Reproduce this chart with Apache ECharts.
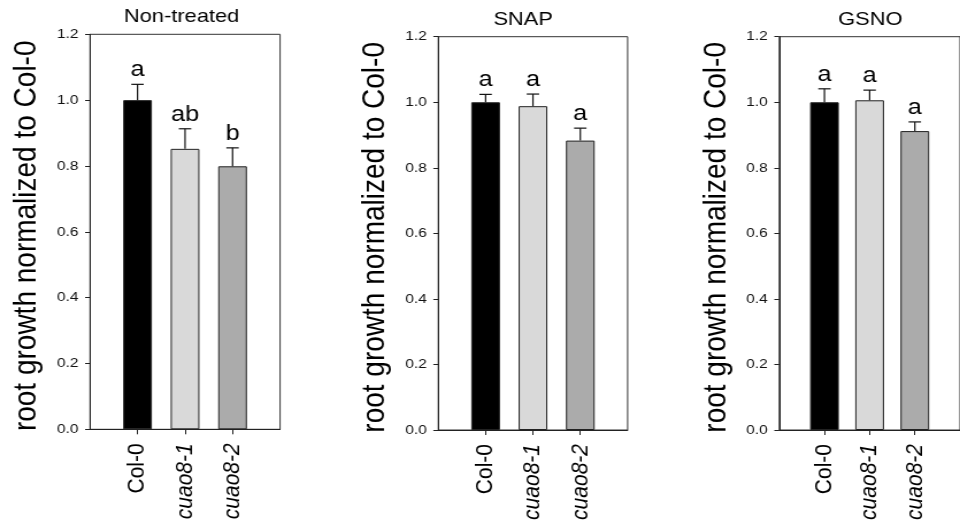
<!DOCTYPE html>
<html>
<head>
<meta charset="utf-8">
<script src="https://cdn.jsdelivr.net/npm/echarts@6/dist/echarts.min.js"></script>
<style>
  html, body { margin: 0; padding: 0; background: #fff; overflow: hidden; }
  /* the source figure is stretched sideways a little, so draw narrower and stretch */
  #chart { width: 835px; height: 528px; transform: scaleX(1.1497); transform-origin: 0 0; }
</style>
</head>
<body>
<div id="chart"></div>
<script>
const genotypes = ['Col-0', 'cuao8-1', 'cuao8-2'];
const panelTitles = ['Non-treated', 'SNAP', 'GSNO'];

const nonTreatedMean = [1.0, 0.852, 0.799];
const nonTreatedErr = [0.048, 0.061, 0.056];
const nonTreatedLetters = ['a', 'ab', 'b'];

const snapMean = [1.0, 0.988, 0.883];
const snapErr = [0.024, 0.037, 0.038];
const snapLetters = ['a', 'a', 'a'];

const gsnoMean = [1.0, 1.006, 0.912];
const gsnoErr = [0.041, 0.031, 0.028];
const gsnoLetters = ['a', 'a', 'a'];

const yMin = 0, yMax = 1.2, yStep = 0.2;
const yName = 'root growth normalized to Col-0';

const barColors = ['#000000', '#d9d9d9', '#ababab'];
const FONT = "'Liberation Sans', Arial, sans-serif";

const panels = [
  { mean: nonTreatedMean, err: nonTreatedErr, letters: nonTreatedLetters,
    grid: { left: 78.3, top: 34.3, width: 165.3, height: 395 }, titleX: 158, titleY: 7 },
  { mean: snapMean, err: snapErr, letters: snapLetters,
    grid: { left: 381.2, top: 36.7, width: 164.7, height: 393.3 }, titleX: 455, titleY: 10 },
  { mean: gsnoMean, err: gsnoErr, letters: gsnoLetters,
    grid: { left: 677.8, top: 36.7, width: 165.3, height: 393.3 }, titleX: 757, titleY: 10 }
];

// blank slot at each end so the three bars sit at 1/4, 2/4, 3/4 of the width
const xSlots = [''].concat(genotypes, ['']);

const chart = echarts.init(document.getElementById('chart'));

const option = {
  animation: false,
  title: [], grid: [], xAxis: [], yAxis: [], series: []
};

panels.forEach((p, i) => {
  option.title.push({
    text: panelTitles[i],
    left: p.titleX,
    top: p.titleY,
    textAlign: 'center',
    padding: 0,
    textStyle: { fontFamily: FONT, fontSize: 19, fontWeight: 'normal', color: '#000' }
  });

  option.grid.push(Object.assign({
    show: true, borderColor: '#333', borderWidth: 1, backgroundColor: 'transparent'
  }, p.grid));

  option.xAxis.push({
    type: 'category',
    gridIndex: i,
    data: xSlots,
    boundaryGap: false,
    axisLine: { lineStyle: { color: '#222', width: 1 } },
    axisTick: { length: 5, interval: idx => idx >= 1 && idx <= 3, lineStyle: { color: '#222' } },
    axisLabel: {
      interval: 0,
      rotate: 90,
      margin: 14,
      formatter: v => v === '' ? '' : (v.startsWith('cuao') ? '{i|' + v + '}' : '{n|' + v + '}'),
      rich: {
        n: { fontFamily: FONT, fontSize: 21, color: '#000' },
        i: { fontFamily: FONT, fontSize: 21, fontStyle: 'italic', color: '#000' }
      }
    },
    splitLine: { show: false }
  });

  option.yAxis.push({
    type: 'value',
    gridIndex: i,
    min: yMin,
    max: yMax,
    interval: yStep,
    name: yName,
    nameLocation: 'middle',
    nameGap: 41,
    nameTextStyle: { fontFamily: FONT, fontSize: 28, color: '#000', padding: [0, 8, 0, 0] },
    axisLine: { show: true, lineStyle: { color: '#222', width: 1 } },
    axisTick: { show: true, length: 4.3, lineStyle: { color: '#222' } },
    axisLabel: {
      margin: 10,
      fontFamily: FONT, fontSize: 13.5, color: '#111',
      formatter: v => v.toFixed(1)
    },
    splitLine: { show: false }
  });

  option.series.push({
    type: 'bar',
    xAxisIndex: i,
    yAxisIndex: i,
    barWidth: 25,
    data: p.mean.map((m, k) => ({
      value: [k + 1, m],
      itemStyle: { color: barColors[k], borderColor: '#222', borderWidth: 1 }
    })),
    z: 2
  });

  option.series.push({
    type: 'custom',
    xAxisIndex: i,
    yAxisIndex: i,
    data: p.mean.map((m, k) => [k + 1, m, p.err[k]]),
    renderItem: (params, api) => {
      const x = api.value(0), m = api.value(1), e = api.value(2);
      const base = api.coord([x, m]);
      const top = api.coord([x, m + e]);
      const lineStyle = { stroke: '#111', lineWidth: 1.2 };
      return {
        type: 'group',
        children: [
          { type: 'line', shape: { x1: base[0], y1: base[1], x2: top[0], y2: top[1] }, style: lineStyle },
          { type: 'line', shape: { x1: top[0] - 5.4, y1: top[1], x2: top[0] + 5.4, y2: top[1] }, style: lineStyle },
          {
            type: 'text', x: top[0], y: top[1] - 3,
            style: {
              text: p.letters[params.dataIndex],
              textAlign: 'center', textVerticalAlign: 'bottom',
              fontFamily: FONT, fontSize: 22, fill: '#000'
            }
          }
        ]
      };
    },
    z: 3
  });
});

chart.setOption(option);
</script>
</body>
</html>
